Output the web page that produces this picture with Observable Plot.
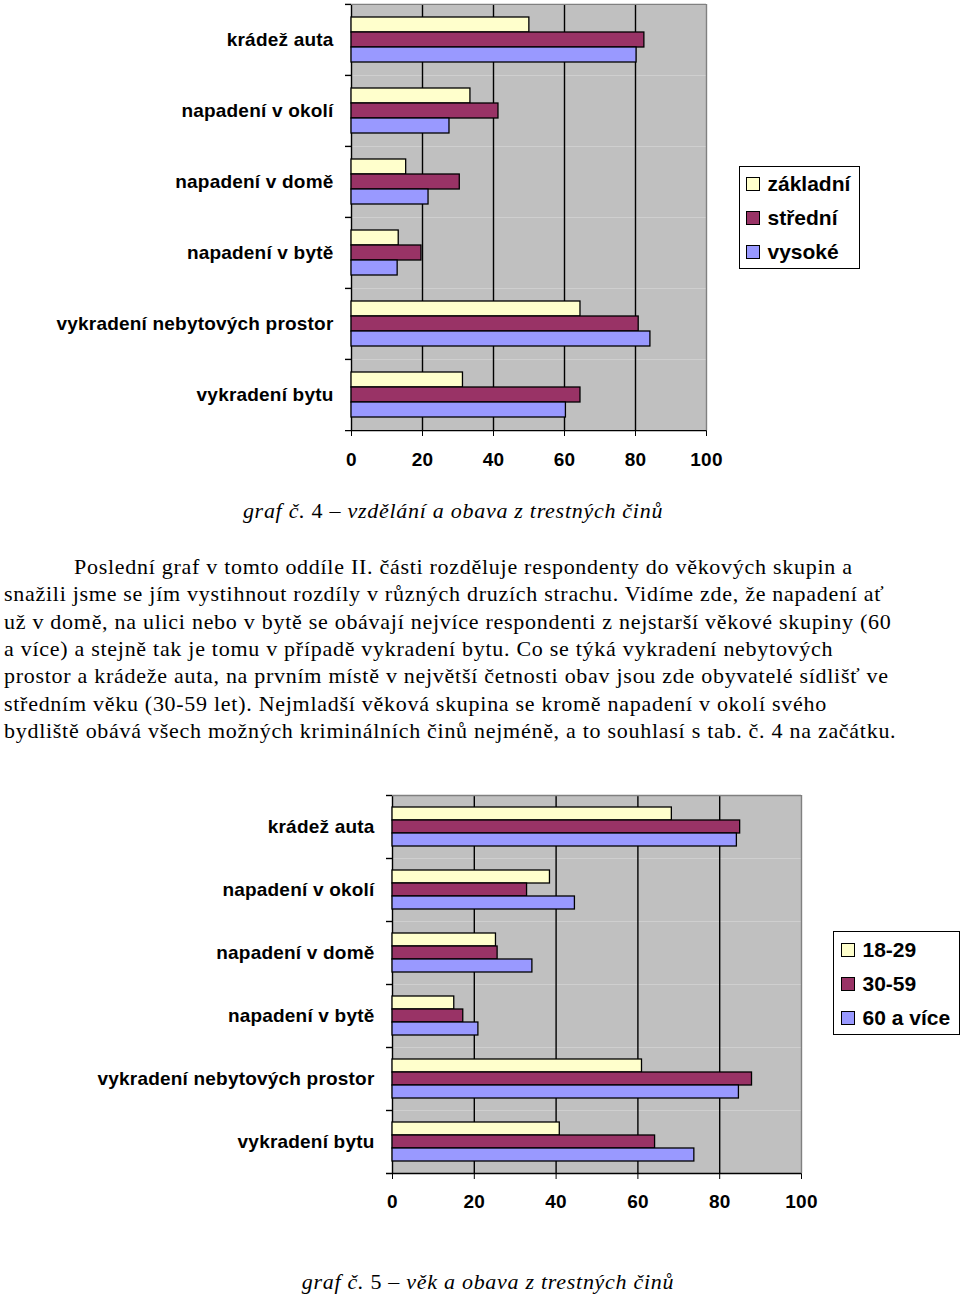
<!DOCTYPE html>
<html>
<head>
<meta charset="utf-8">
<script src="https://cdn.jsdelivr.net/npm/d3@7"></script>
<script src="https://cdn.jsdelivr.net/npm/@observablehq/plot@0.6"></script>
<style>
  html, body { margin: 0; padding: 0; background: #fff; }
  body { position: relative; width: 960px; height: 1295px; overflow: hidden; }
  .abs { position: absolute; }
  .legend { position: absolute; border: 1.5px solid #000; box-sizing: border-box; background: #fff;
            font-family: "Liberation Sans", Arial, sans-serif; font-weight: bold; font-size: 21px; color: #000; }
  .legend .row { position: absolute; height: 34px; display: flex; align-items: center; white-space: nowrap; }
  .legend .sw { width: 12px; height: 12px; border: 1px solid #000; margin-right: 8px; flex: none; }
  .caption { position: absolute; transform: translateX(-50%); white-space: nowrap; letter-spacing: 0.72px;
             font-family: "Liberation Serif", "Times New Roman", serif; font-style: italic; font-size: 22px; line-height: 22px; color: #000; }
  .caption .up { font-style: normal; }
  .para { position: absolute; left: 4px; top: 553px; font-family: "Liberation Serif", "Times New Roman", serif;
          font-size: 22px; line-height: 27.35px; letter-spacing: 0.72px; color: #000; }
  .para div { white-space: nowrap; }
  .para div.first { text-indent: 70px; }
</style>
</head>
<body>
<div id="chart1" class="abs" style="left:0;top:0"></div>
<div id="legend1" class="legend" style="left:739px;top:166px;width:121px;height:103px"></div>
<div class="caption" style="left:453px;top:500px">graf č. <span class="up">4</span> – vzdělání a obava z trestných činů</div>
<div class="para" id="para"></div>
<div id="chart2" class="abs" style="left:0;top:790px"></div>
<div id="legend2" class="legend" style="left:833px;top:931px;width:127px;height:104px"></div>
<div class="caption" style="left:488px;top:1271px">graf č. <span class="up">5</span> – věk a obava z trestných činů</div>
<script>
// ---- data ----
const categories = ["krádež auta", "napadení v okolí", "napadení v domě", "napadení v bytě", "vykradení nebytových prostor", "vykradení bytu"];
const eduSeries = ["základní", "střední", "vysoké"];
const eduZakladni = [50.1, 33.5, 15.4, 13.3, 64.5, 31.4];
const eduStredni  = [82.5, 41.4, 30.5, 19.7, 80.9, 64.5];
const eduVysoke   = [80.3, 27.6, 21.7, 13.0, 84.2, 60.4];
const ageSeries = ["18-29", "30-59", "60 a více"];
const age1829 = [68.3, 38.5, 25.3, 15.1, 61.0, 40.9];
const age3059 = [85.0, 32.9, 25.7, 17.3, 87.9, 64.2];
const age60   = [84.2, 44.6, 34.2, 21.0, 84.7, 73.8];
const xTicks = [0, 20, 40, 60, 80, 100];
const seriesColors = ["#FFFFCC", "#993366", "#9999FF"];

const paragraphLines = [
  "Poslední graf v tomto oddíle II. části rozděluje respondenty do věkových skupin a",
  "snažili jsme se jím vystihnout rozdíly v různých druzích strachu. Vidíme zde, že napadení ať",
  "už v domě, na ulici nebo v bytě se obávají nejvíce respondenti z nejstarší věkové skupiny (60",
  "a více) a stejně tak je tomu v případě vykradení bytu. Co se týká vykradení nebytových",
  "prostor a krádeže auta, na prvním místě v největší četnosti obav jsou zde obyvatelé sídlišť ve",
  "středním věku (30-59 let). Nejmladší věková skupina se kromě napadení v okolí svého",
  "bydliště obává všech možných kriminálních činů nejméně, a to souhlasí s tab. č. 4 na začátku."
];

function makeRows(series, valueArrays) {
  const rows = [];
  categories.forEach((c, i) => series.forEach((s, j) => rows.push({category: c, series: s, value: valueArrays[j][i]})));
  return rows;
}

function chart({series, rows, width, height, marginLeft, marginRight, marginTop, marginBottom, tickPadding}) {
  const plotH = height - marginTop - marginBottom;
  const facetH = plotH / categories.length;
  const pxPerUnit = (width - marginLeft - marginRight) / 100;
  const tickLen = 6 / pxPerUnit;
  const last = categories[categories.length - 1];
  return Plot.plot({
    width, height, marginLeft, marginRight, marginTop, marginBottom,
    style: {fontFamily: "'Liberation Sans', Arial, sans-serif", fontSize: "19px", fontWeight: "bold", letterSpacing: "0.2px", color: "#000", background: "transparent", overflow: "visible"},
    x: {domain: [0, 100], ticks: xTicks, tickSize: 6, tickPadding, label: null, axis: "bottom"},
    fy: {domain: categories, padding: 0, axis: "left", tickSize: 0, tickPadding: 18, label: null},
    y: {domain: series, paddingInner: 0, paddingOuter: 0.76, axis: null},
    color: {domain: series, range: seriesColors},
    marks: [
      Plot.frame({fill: "#c0c0c0", stroke: null}),
      Plot.ruleX([20, 40, 60, 80], {stroke: "#000", strokeWidth: 1.4}),
      Plot.ruleX([100], {stroke: "#808080", strokeWidth: 1.4}),
      Plot.ruleX([0], {stroke: "#000", strokeWidth: 1.4}),
      Plot.ruleY([categories[0]], {fy: d => d, y: () => series[1], x1: 0, x2: 100, dy: -facetH / 2, stroke: "#808080", strokeWidth: 1.4}),
      Plot.ruleY(categories, {fy: d => d, y: () => series[1], x1: -tickLen, x2: 0, dy: -facetH / 2, stroke: "#000", strokeWidth: 1.4}),
      Plot.ruleY([last], {fy: d => d, y: () => series[1], x1: -tickLen, x2: 100, dy: facetH / 2, stroke: "#000", strokeWidth: 1.4}),
      Plot.barX(rows, {x: "value", y: "series", fy: "category", fill: "series", stroke: "#000", strokeWidth: 1.3})
    ]
  });
}

document.getElementById("chart1").append(chart({
  series: eduSeries, rows: makeRows(eduSeries, [eduZakladni, eduStredni, eduVysoke]),
  width: 730, height: 475, marginLeft: 351, marginRight: 24, marginTop: 3, marginBottom: 45, tickPadding: 16
}));
document.getElementById("chart2").append(chart({
  series: ageSeries, rows: makeRows(ageSeries, [age1829, age3059, age60]),
  width: 820, height: 428, marginLeft: 392, marginRight: 19, marginTop: 5, marginBottom: 45, tickPadding: 15
}));

function legend(el, series, rowTops, left) {
  series.forEach((s, i) => {
    const row = document.createElement("div");
    row.className = "row";
    row.style.top = rowTops[i] + "px";
    row.style.left = left + "px";
    const sw = document.createElement("div");
    sw.className = "sw";
    sw.style.background = seriesColors[i];
    const t = document.createElement("span");
    t.textContent = s;
    row.append(sw, t);
    el.append(row);
  });
}
legend(document.getElementById("legend1"), eduSeries, [0, 34, 68], 5.5);
legend(document.getElementById("legend2"), ageSeries, [1, 35, 69], 6.5);

const para = document.getElementById("para");
paragraphLines.forEach((line, i) => {
  const d = document.createElement("div");
  if (i === 0) d.className = "first";
  d.textContent = line;
  para.append(d);
});
</script>
</body>
</html>
